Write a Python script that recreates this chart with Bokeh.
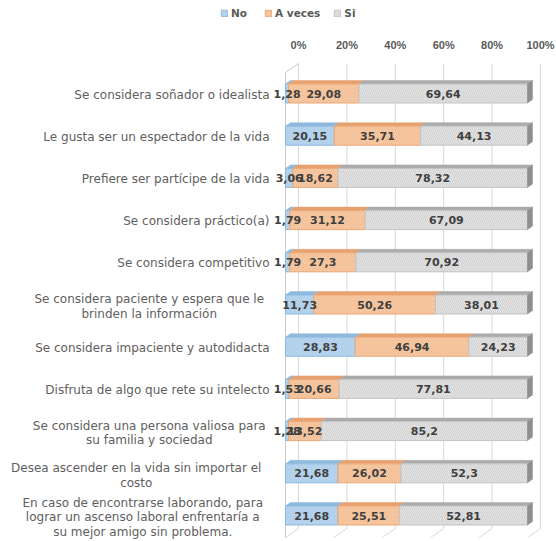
from bokeh.plotting import figure
from bokeh.layouts import column
from bokeh.models import (ColumnDataSource, Range1d, FixedTicker, Legend, LegendItem,
                          CustomJSTickFormatter)
from bokeh.core.properties import value
from bokeh.embed import file_html
from bokeh.resources import INLINE

# ---------------- data ----------------
categories = [
    "Se considera soñador o idealista",
    "Le gusta ser un espectador de la vida",
    "Prefiere ser partícipe de la vida",
    "Se considera práctico(a)",
    "Se considera competitivo",
    "Se considera paciente y espera que le\nbrinden la información",
    "Se considera impaciente y autodidacta",
    "Disfruta de algo que rete su intelecto",
    "Se considera una persona valiosa para\nsu familia y sociedad",
    "Desea ascender en la vida sin importar el\ncosto",
    "En caso de encontrarse laborando, para\nlograr un ascenso laboral enfrentaría a\nsu mejor amigo sin problema.",
]
series_names = ["No", "A veces", "Si"]
no_vals = [1.28, 20.15, 3.06, 1.79, 1.79, 11.73, 28.83, 1.53, 1.28, 21.68, 21.68]
aveces_vals = [29.08, 35.71, 18.62, 31.12, 27.3, 50.26, 46.94, 20.66, 13.52, 26.02, 25.51]
si_vals = [69.64, 44.13, 78.32, 67.09, 70.92, 38.01, 24.23, 77.81, 85.2, 52.3, 52.81]
tick_values = [0, 20, 40, 60, 80, 100]

# ---------------- styling / geometry ----------------
W = 556
LEG_H = 30
H = 541 - LEG_H
TOP_BORDER = 30
FRAME_H = H - TOP_BORDER
X0_PX = 298.0          # pixel of 0 % on the back wall
PXU = 2.42             # pixels per percent
ROW_PX = 42.2          # pixels per row
FIRST_ROW_PX = 33.0    # first bar centre below frame top
to_x = lambda px: px / PXU
to_y = lambda px: px / ROW_PX

OFF = to_x(13)         # front face shifted left of the back wall
BH = to_y(19)          # bar height
DX, DY = to_x(5), to_y(3.5)   # bar depth (top face)
WALL_DX, WALL_DY = to_x(13), to_y(9)

fills = ["#bcd8f0", "#f8cca6", "#e4e4e4"]
lines = ["#8db9de", "#eba877", "#c4c4c4"]
hatches = ["#a3c6e5", "#efb68b", "#cbcbcb"]
tops = ["#8fb9dd", "#e6a16e", "#ababab"]
GRID = "#d9d9d9"
TXT = "#5a5a5a"
LABEL_TXT = "#606060"

p = figure(width=W, height=H, output_backend="svg", toolbar_location=None,
           x_axis_location="above",
           x_range=Range1d(-X0_PX / PXU, (W - X0_PX) / PXU),
           y_range=Range1d(-(FRAME_H - FIRST_ROW_PX) / ROW_PX, FIRST_ROW_PX / ROW_PX),
           min_border_left=0, min_border_right=0, min_border_bottom=0,
           min_border_top=TOP_BORDER)
p.outline_line_color = None
p.grid.visible = False
p.yaxis.visible = False
ax = p.xaxis[0]
ax.ticker = FixedTicker(ticks=tick_values)
ax.formatter = CustomJSTickFormatter(code="return tick + '%';")
ax.axis_line_color = None
ax.major_tick_line_color = None
ax.minor_tick_line_color = None
ax.major_label_standoff = 4
ax.major_label_text_font = "Liberation Sans"
ax.major_label_text_font_style = "bold"
ax.major_label_text_font_size = "11px"
ax.major_label_text_color = TXT

ys = [-i for i in range(len(categories))]
y_top_wall = to_y(FIRST_ROW_PX - 3)
y_bot_wall = to_y(FIRST_ROW_PX - 468)

# back-wall gridlines with floor tails
p.segment(x0=tick_values, y0=[y_top_wall] * len(tick_values),
          x1=tick_values, y1=[y_bot_wall] * len(tick_values), line_color=GRID, line_width=1)
p.segment(x0=tick_values, y0=[y_bot_wall] * len(tick_values),
          x1=[t - WALL_DX for t in tick_values], y1=[y_bot_wall - WALL_DY] * len(tick_values),
          line_color=GRID, line_width=1)
# left wall
p.segment(x0=[0], y0=[y_top_wall], x1=[-WALL_DX], y1=[y_top_wall - WALL_DY],
          line_color="#c8c8c8", line_width=1)
p.segment(x0=[-WALL_DX], y0=[y_top_wall - WALL_DY], x1=[-WALL_DX], y1=[y_bot_wall - WALL_DY],
          line_color="#c8c8c8", line_width=1)

vals = [no_vals, aveces_vals, si_vals]
cum = [0.0] * len(categories)
sources = []
bar_style = []
for k, v in enumerate(vals):
    left = [c - OFF for c in cum]
    right = [c + x - OFF for c, x in zip(cum, v)]
    src = ColumnDataSource(dict(y=ys, left=left, right=right,
                                mid=[(a + b) / 2 for a, b in zip(left, right)],
                                lab=[str(x).replace(".", ",") for x in v]))
    sources.append(src)
    xs_top = [[l, l + DX, r + DX, r] for l, r in zip(left, right)]
    ys_top = [[y + BH / 2, y + BH / 2 + DY, y + BH / 2 + DY, y + BH / 2] for y in ys]
    p.patches(xs=xs_top, ys=ys_top, fill_color=tops[k], line_color=tops[k], line_width=0.5)
    style = dict(fill_color=fills[k], line_color=lines[k], line_width=1,
                 hatch_pattern="/", hatch_color=hatches[k], hatch_scale=4, hatch_weight=0.8)
    bar_style.append(style)
    p.hbar(y="y", left="left", right="right", height=BH, source=src, **style)
    if k == len(vals) - 1:
        xs_end = [[rr, rr, rr + DX, rr + DX] for rr in right]
        ys_end = [[y - BH / 2, y + BH / 2, y + BH / 2 + DY, y - BH / 2 + DY] for y in ys]
        p.patches(xs=xs_end, ys=ys_end, fill_color="#8f8f8f", line_color="#8f8f8f", line_width=0.5)
    cum = [c + x for c, x in zip(cum, v)]

for src in sources:
    p.text(x="mid", y="y", text="lab", source=src, text_align="center", text_baseline="middle",
           text_font=value("DejaVu Sans"), text_font_style="bold", text_font_size="11px",
           text_color="#404040")

# category labels
RIGHT_PX = 269
CW = 6.5
single = [c for c in categories if "\n" not in c]
single_y = [y for c, y in zip(categories, ys) if "\n" not in c]
multi = [c for c in categories if "\n" in c]
multi_y = [y for c, y in zip(categories, ys) if "\n" in c]
multi_x = [to_x(RIGHT_PX - max(len(s) for s in c.split("\n")) * CW / 2 - X0_PX) for c in multi]
p.text(x=[to_x(RIGHT_PX - X0_PX)] * len(single), y=single_y, text=single,
       text_align="right", text_baseline="middle", y_offset=1,
       text_font=value("DejaVu Sans"), text_font_size="12px", text_color=LABEL_TXT)
p.text(x=multi_x, y=multi_y, text=multi,
       text_align="center", text_baseline="middle", y_offset=2, text_line_height=1.05,
       text_font=value("DejaVu Sans"), text_font_size="12px", text_color=LABEL_TXT)

# legend strip on top (its bars fall outside this strip's range; only the legend shows)
lf = figure(width=W, height=LEG_H, output_backend="svg", toolbar_location=None,
            x_range=Range1d(0, 1), y_range=Range1d(100, 101),
            min_border=0)
lf.outline_line_color = None
lf.axis.visible = False
lf.grid.visible = False
leg_r = [lf.hbar(y="y", left="left", right="right", height=BH, source=sources[k], **bar_style[k])
         for k in range(3)]
legend = Legend(items=[LegendItem(label=n, renderers=[r]) for n, r in zip(series_names, leg_r)],
                orientation="horizontal", location=(220, 11),
                padding=0, margin=0, spacing=13, glyph_width=8, glyph_height=8,
                label_standoff=3, label_text_font="DejaVu Sans", label_text_font_style="bold",
                label_text_font_size="10.5px", label_text_color=TXT,
                background_fill_alpha=0, border_line_alpha=0, label_height=12)
lf.add_layout(legend, "center")

open("out.html", "w").write(file_html(column(lf, p, spacing=0), INLINE))
